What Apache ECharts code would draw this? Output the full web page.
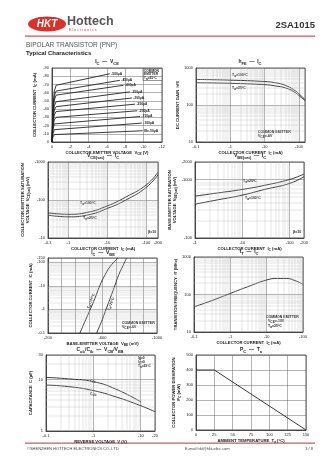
<!DOCTYPE html>
<html><head><meta charset="utf-8">
<script src="https://cdn.jsdelivr.net/npm/echarts@6/dist/echarts.min.js"></script>
<style>html,body{margin:0;padding:0;background:#fff}#c{width:336px;height:475px}</style>
</head><body><div id="c"></div>
<script>
// ---------- DATA ----------
// Chart 1: IC - VCE (magnitudes; PNP shown with minus signs)
const ibLabels = ['-500µA','-450µA','-400µA','-350µA','-300µA','-250µA','-200µA','-150µA','-100µA','I{s|B}=-50µA'];
const icVce1 = [[0,0],[0.1,42],[0.25,62],[0.45,69],[6.3,83]];
const icVce2 = [[0,0],[0.1,38],[0.25,56],[0.45,62],[7.4,75]];
const icVce3 = [[0,0],[0.1,35],[0.25,51],[0.45,57],[7.8,69]];
const icVce4 = [[0,0],[0.1,30],[0.25,44],[0.45,49],[8.5,61]];
const icVce5 = [[0,0],[0.1,26],[0.25,39],[0.45,43],[8.7,53.5]];
const icVce6 = [[0,0],[0.1,22],[0.25,33],[0.45,37],[9.05,46]];
const icVce7 = [[0,0],[0.1,18],[0.25,27],[0.45,30],[9.3,38]];
const icVce8 = [[0,0],[0.1,15],[0.25,22],[0.45,24],[9.6,31]];
const icVce9 = [[0,0],[0.1,10],[0.25,15],[0.45,17],[9.8,23]];
const icVce10 = [[0,0],[0.1,6],[0.25,9],[0.45,9.7],[9.9,13.7]];
// Chart 2: hFE - IC
const hfeIc = [0.1, 1, 10, 20, 40, 70, 100, 150];
const hfe100 = [490, 470, 430, 400, 340, 260, 200, 140];
const hfe25 = [400, 385, 355, 330, 290, 230, 180, 130];
// Chart 3: VCE(sat) - IC
const satIc = [0.3, 1, 3, 10, 30, 100, 200];
const vceSat100 = [46, 42, 47, 70, 120, 250, 540];
const vceSat25 = [40, 36, 40, 60, 100, 215, 460];
// Chart 4: VBE(sat) - IC
const vbeSatIc = [1, 3, 10, 30, 100, 200];
const vbeSat25 = [521, 590, 679, 800, 1007, 1243];
const vbeSat100 = [379, 450, 542, 680, 861, 1119];
// Chart 5: IC - VBE
const icVbe = [0.1, 0.3, 1, 3, 10, 30, 70, 150];
const vbe100 = [435, 470, 510, 545, 580, 620, 660, 714];
const vbe25 = [557, 592, 626, 657, 690, 720, 750, 777];
// Chart 6: fT - IC
const ftIc = [0.1, 0.3, 1, 3, 10, 20, 35, 60, 100];
const ftVals = [47, 68, 107, 161, 244, 268, 268, 235, 187];
// Chart 7: Capacitance - reverse voltage
const capV = [0.1, 0.3, 1, 3, 10, 20];
const cibVals = [11, 10.3, 9.1, 6.5, 3.7];
const cobVals = [7.8, 7.3, 6.1, 4.6, 3.1, 2.37];
// Chart 8: PC - Ta
const pcTa = [0, 25, 150];
const pcVals = [400, 400, 0];

// ---------- STYLE HELPERS ----------
const F = '"Liberation Sans", Arial, sans-serif';
const rich = {s:{fontSize:3.2, fontFamily:F, fontWeight:'bold', padding:[2,0,0,0], color:'#222'}};
const neg = v => (v == 0 ? '0' : '-' + (+v.toPrecision(4)));
const pos = v => String(+v.toPrecision(4));
function ax(gi, o) {
  return Object.assign({
    gridIndex: gi, nameLocation: 'middle',
    nameTextStyle: {fontSize: 4.2, fontWeight: 'bold', fontFamily: F, color: '#222', rich: rich, lineHeight: 5.5},
    axisLine: {show: true, onZero: false, lineStyle: {color: '#333', width: 0.8}},
    axisTick: {show: false},
    axisLabel: {fontSize: 4, color: '#222', fontFamily: F, margin: 3, formatter: neg},
    splitLine: {show: true, lineStyle: {color: '#666', width: 0.5}}
  }, o);
}
const posLbl = {fontSize: 4, color: '#222', fontFamily: F, margin: 3, formatter: pos};
function logMinors(min, max) {
  const out = [];
  for (let e = Math.floor(Math.log10(min)); e <= Math.ceil(Math.log10(max)); e++)
    for (let m = 2; m <= 9; m++) { const v = +(m * Math.pow(10, e)).toPrecision(3); if (v > min * 1.001 && v < max * 0.999) out.push(v); }
  return out;
}
function minorLines(xs, ys) {
  return {silent: true, symbol: 'none', animation: false, label: {show: false},
    lineStyle: {color: '#bbb', width: 0.4, type: 'solid'},
    data: xs.map(v => ({xAxis: v})).concat(ys.map(v => ({yAxis: v})))};
}
const zip = (a, b) => a.slice(0, b.length).map((x, i) => [x, b[i]]);
const lineS = (gi, data, extra) => Object.assign({type: 'line', xAxisIndex: gi, yAxisIndex: gi, data: data,
  showSymbol: false, smooth: true, lineStyle: {color: '#222', width: 0.9}, silent: true}, extra || {});

const grids = [
  {left: 52, top: 68, width: 110, height: 74},
  {left: 196, top: 68, width: 109, height: 74},
  {left: 48, top: 162, width: 110, height: 76},
  {left: 195, top: 162, width: 109, height: 76},
  {left: 48, top: 258, width: 109, height: 75},
  {left: 194, top: 257, width: 109, height: 75},
  {left: 46, top: 355, width: 109, height: 76},
  {left: 196, top: 355, width: 110, height: 75}
].map(g => Object.assign({show: true, borderColor: '#333', borderWidth: 0.8, containLabel: false}, g));

const xAxes = [
  ax(0, {type: 'value', min: 0, max: 12, interval: 2, name: 'COLLECTOR-EMITTER VOLTAGE  V{s|CE} (V)', nameGap: 8}),
  ax(1, {type: 'log', min: 0.1, max: 150, name: 'COLLECTOR CURRENT  I{s|C} (mA)', nameGap: 8}),
  ax(2, {type: 'log', min: 0.3, max: 200, name: 'COLLECTOR CURRENT  I{s|C} (mA)', nameGap: 8}),
  ax(3, {type: 'log', min: 1, max: 200, name: 'COLLECTOR CURRENT  I{s|C} (mA)', nameGap: 8}),
  ax(4, {type: 'value', min: 200, max: 1000, interval: 100, name: 'BASE-EMITTER VOLTAGE  V{s|BE} (mV)', nameGap: 8,
    axisLabel: {fontSize: 4, color: '#222', fontFamily: F, margin: 3, formatter: v => (v % 400 === 200 ? neg(v) : '')}}),
  ax(5, {type: 'log', min: 0.1, max: 100, name: 'COLLECTOR CURRENT  I{s|C} (mA)', nameGap: 8}),
  ax(6, {type: 'log', min: 0.1, max: 20, name: 'REVERSE VOLTAGE  V (V)', nameGap: 8}),
  ax(7, {type: 'value', min: 0, max: 150, interval: 25, name: 'AMBIENT TEMPERATURE  T{s|a} (°C)', nameGap: 8, axisLabel: posLbl})
];
const yAxes = [
  ax(0, {type: 'value', min: 0, max: 90, interval: 10, name: 'COLLECTOR CURRENT  I{s|C} (mA)', nameGap: 14}),
  ax(1, {type: 'log', min: 10, max: 1000, name: 'DC CURRENT GAIN  h{s|FE}', nameGap: 15, axisLabel: posLbl}),
  ax(2, {type: 'log', min: 10, max: 1000, name: 'COLLECTOR-EMITTER SATURATION\nVOLTAGE  V{s|CE(sat)} (mV)', nameGap: 16}),
  ax(3, {type: 'log', min: 100, max: 2000, name: 'BASE-EMITTER SATURATION\nVOLTAGE  V{s|BE(sat)} (mV)', nameGap: 16}),
  ax(4, {type: 'log', min: 0.1, max: 150, name: 'COLLECTOR CURRENT  I{s|C} (mA)', nameGap: 14}),
  ax(5, {type: 'log', min: 10, max: 1000, name: 'TRANSITION FREQUENCY  f{s|T} (MHz)', nameGap: 14, axisLabel: posLbl}),
  ax(6, {type: 'log', min: 1, max: 30, name: 'CAPACITANCE  C (pF)', nameGap: 12, axisLabel: posLbl}),
  ax(7, {type: 'value', min: 0, max: 500, interval: 100, name: 'COLLECTOR POWER DISSIPATION\nP{s|C} (mW)', nameGap: 14, axisLabel: posLbl})
];

const endLbl = {show: true, formatter: '{a}', fontSize: 3.3, fontFamily: F, fontWeight: 'bold', color: '#222', distance: 1.5,
  rich: {s: {fontSize: 2.6, fontFamily: F, fontWeight: 'bold', padding: [2, 0, 0, 0], color: '#222'}}};
const curves1 = [icVce1, icVce2, icVce3, icVce4, icVce5, icVce6, icVce7, icVce8, icVce9, icVce10];
const series = curves1.map((d, i) => lineS(0, d, {name: ibLabels[i], smooth: false, endLabel: endLbl}));
series.push(lineS(1, zip(hfeIc, hfe100), {markLine: minorLines(logMinors(0.1, 150), logMinors(10, 1000))}));
series.push(lineS(1, zip(hfeIc, hfe25)));
series.push(lineS(2, zip(satIc, vceSat100), {markLine: minorLines(logMinors(0.3, 200), logMinors(10, 1000))}));
series.push(lineS(2, zip(satIc, vceSat25)));
series.push(lineS(3, zip(vbeSatIc, vbeSat25), {markLine: minorLines(logMinors(1, 200), logMinors(100, 2000))}));
series.push(lineS(3, zip(vbeSatIc, vbeSat100)));
series.push(lineS(4, zip(vbe100, icVbe), {markLine: minorLines([], logMinors(0.1, 150))}));
series.push(lineS(4, zip(vbe25, icVbe)));
series.push(lineS(5, zip(ftIc, ftVals), {markLine: minorLines(logMinors(0.1, 100), logMinors(10, 1000))}));
series.push(lineS(6, zip(capV, cibVals), {markLine: minorLines(logMinors(0.1, 20), logMinors(1, 30))}));
series.push(lineS(6, zip(capV, cobVals)));
series.push(lineS(7, zip(pcTa, pcVals), {smooth: false}));

// ---------- TEXT / DECORATION ----------
function T(x, y, text, o) {
  return {type: 'text', x: x, y: y, silent: true, style: Object.assign({text: text, fontSize: 3.5, fontFamily: F, fontWeight: 'bold', fill: '#222', rich: rich}, o || {})};
}
const titleRich = {s: {fontSize: 4, fontFamily: F, fontWeight: 'bold', padding: [3, 0, 0, 0], fill: '#222', color: '#222'}};
function TT(x, y, text) { return T(x, y, text, {fontSize: 5, align: 'center', verticalAlign: 'middle', rich: titleRich}); }

const graphics = [
  // header
  {type: 'ellipse', shape: {cx: 47, cy: 24, rx: 19, ry: 7.5}, style: {fill: '#d8322b'}},
  T(47, 24, 'HKT', {fontSize: 10, fill: '#fff', fontStyle: 'italic', align: 'center', verticalAlign: 'middle', fontWeight: 'bold'}),
  T(67, 22, 'Hottech', {fontSize: 12.5, fill: '#555', verticalAlign: 'middle', fontWeight: 'bold'}),
  T(69, 30, 'E l e c t r o n i c s', {fontSize: 3.6, fill: '#c8374a', verticalAlign: 'middle', fontWeight: 'normal'}),
  T(315, 25, '2SA1015', {fontSize: 9.5, fill: '#333', align: 'right', verticalAlign: 'middle', fontWeight: 'bold'}),
  {type: 'rect', shape: {x: 25, y: 35.5, width: 290, height: 1.2}, style: {fill: '#c9596a'}},
  T(26, 45, 'BIPOLAR TRANSISTOR (PNP)', {fontSize: 6.5, fill: '#555', verticalAlign: 'middle', fontWeight: 'normal'}),
  T(26, 53, 'Typical Characteristics', {fontSize: 6, fill: '#222', verticalAlign: 'middle', fontWeight: 'bold'}),
  // footer
  {type: 'rect', shape: {x: 25, y: 442.5, width: 290, height: 1.2}, style: {fill: '#c9596a'}},
  T(27, 449, '©SHENZHEN HOTTECH ELECTRONICS CO.,LTD', {fontSize: 4, fill: '#444', verticalAlign: 'middle', fontWeight: 'normal'}),
  T(185, 449, 'E-mail:hkt@hkt-elec.com', {fontSize: 4, fill: '#444', verticalAlign: 'middle', fontWeight: 'normal'}),
  T(313, 449, '3 / 8', {fontSize: 4, fill: '#444', align: 'right', verticalAlign: 'middle', fontWeight: 'normal'}),
  // chart titles
  TT(107, 62, 'I{s|C}  —  V{s|CE}'),
  TT(250, 62, 'h{s|FE}  —  I{s|C}'),
  TT(103, 156, 'V{s|CE(sat)}  —  I{s|C}'),
  TT(250, 156, 'V{s|BE(sat)}  —  I{s|C}'),
  TT(103, 253, 'I{s|C}  —  V{s|BE}'),
  TT(249, 252, 'f{s|T}  —  I{s|C}'),
  TT(100, 350, 'C{s|ob}/C{s|ib}  —  V{s|CB}/V{s|EB}'),
  TT(251, 350, 'P{s|C}  —  T{s|a}'),
  // chart 1 box
  {type: 'rect', shape: {x: 143, y: 68.5, width: 19, height: 12}, style: {fill: '#fff', stroke: '#333', lineWidth: 0.5}},
  T(144, 71, 'COMMON', {verticalAlign: 'middle', fontSize: 3.2}),
  T(144, 74.5, 'EMITTER', {verticalAlign: 'middle', fontSize: 3.2}),
  T(144, 78, 'T{s|a}=25°C', {verticalAlign: 'middle', fontSize: 3.2}),
  // chart 2
  T(232, 75, 'T{s|a}=100°C', {verticalAlign: 'middle'}),
  T(232, 88, 'T{s|a}=25°C', {verticalAlign: 'middle'}),
  T(258, 132, 'COMMON EMITTER', {verticalAlign: 'middle'}),
  T(258, 136.5, 'V{s|CE}=-6V', {verticalAlign: 'middle'}),
  // chart 3
  T(80, 203, 'T{s|a}=100°C', {verticalAlign: 'middle'}),
  T(83, 218, 'T{s|a}=25°C', {verticalAlign: 'middle'}),
  T(148, 232, 'β=10', {verticalAlign: 'middle'}),
  // chart 4
  T(243, 181, 'T{s|a}=25°C', {verticalAlign: 'middle'}),
  T(245, 198, 'T{s|a}=100°C', {verticalAlign: 'middle'}),
  T(293, 232, 'β=10', {verticalAlign: 'middle'}),
  // chart 5 (rotated along curves)
  Object.assign(T(91, 301, 'T{s|a}=100°C', {verticalAlign: 'middle', align: 'center'}), {rotation: 1.2}),
  Object.assign(T(111, 304, 'T{s|a}=25°C', {verticalAlign: 'middle', align: 'center'}), {rotation: 1.2}),
  T(122, 323, 'COMMON EMITTER', {verticalAlign: 'middle'}),
  T(122, 327.5, 'V{s|CE}=-6V', {verticalAlign: 'middle'}),
  // chart 6
  T(266, 317, 'COMMON EMITTER', {verticalAlign: 'middle'}),
  T(268, 321.5, 'V{s|CE}=-10V', {verticalAlign: 'middle'}),
  T(268, 326, 'T{s|a}=25°C', {verticalAlign: 'middle'}),
  // chart 7
  T(90, 381, 'C{s|ib}', {verticalAlign: 'middle'}),
  T(90, 394, 'C{s|ob}', {verticalAlign: 'middle'}),
  T(138, 358, 'I{s|E}=0', {verticalAlign: 'middle', fontSize: 3.2}),
  T(138, 362, 'I{s|C}=0', {verticalAlign: 'middle', fontSize: 3.2}),
  T(138, 366, 'T{s|a}=25°C', {verticalAlign: 'middle', fontSize: 3.2})
];

const chart = echarts.init(document.getElementById('c'), null, {renderer: 'canvas'});
chart.setOption({
  backgroundColor: '#fff', animation: false,
  grid: grids, xAxis: xAxes, yAxis: yAxes, series: series, graphic: graphics
});
</script></body></html>
